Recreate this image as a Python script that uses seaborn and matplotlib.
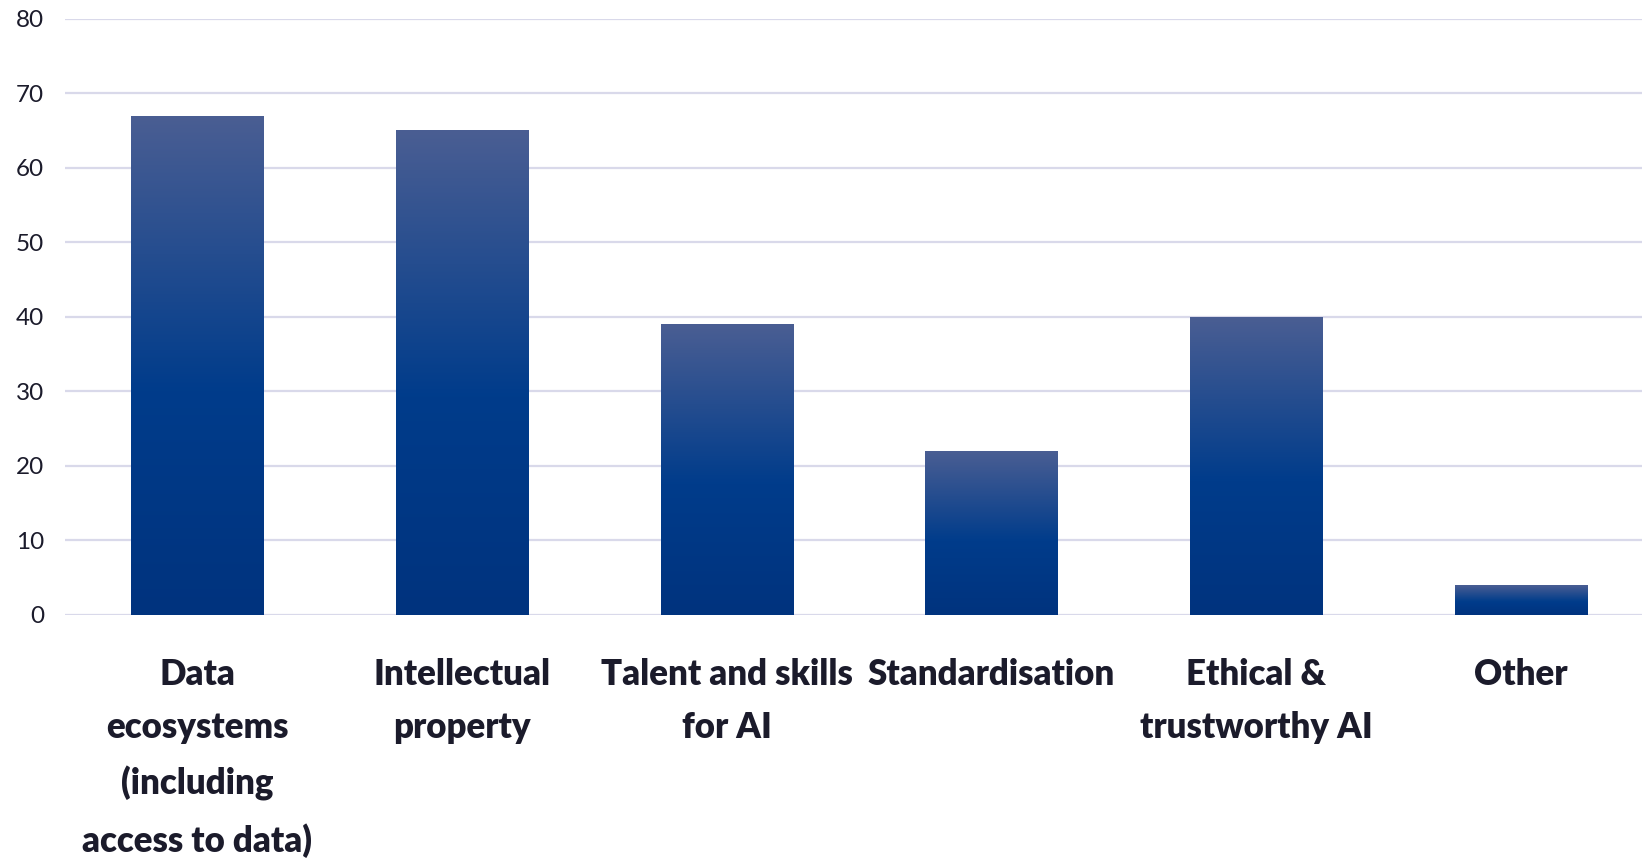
import numpy as np
import pandas as pd
import matplotlib
matplotlib.use("Agg")
import matplotlib.pyplot as plt
import seaborn as sns
from matplotlib.colors import LinearSegmentedColormap

categories = ["Data\necosystems\n(including\naccess to data)", "Intellectual\nproperty",
              "Talent and skills\nfor AI", "Standardisation", "Ethical &\ntrustworthy AI", "Other"]
values = [67, 65, 39, 22, 40, 4]
y_ticks = [0, 10, 20, 30, 40, 50, 60, 70, 80]

df = pd.DataFrame({"category": categories, "value": values})

sns.set_style("white")
plt.rcParams["font.family"] = ["Lato", "DejaVu Sans"]

text_color = "#1b1b2b"
grid_color = "#d9d9ea"
bar_cmap = LinearSegmentedColormap.from_list(
    "bar_grad", [(0.0, "#00337e"), (0.45, "#003c8b"), (1.0, "#4a5e93")])

fig = plt.figure(figsize=(16.42, 8.61), dpi=100)
ax = fig.add_axes([65 / 1642, 0.286, 1 - 65 / 1642, 0.692])

sns.barplot(data=df, x="category", y="value", color="#003c8b", width=0.5, ax=ax, zorder=3)

# swap flat fills for a vertical gradient per bar
grad = np.linspace(0, 1, 256).reshape(-1, 1)
for patch in ax.patches:
    x, y = patch.get_x(), patch.get_y()
    w, h = patch.get_width(), patch.get_height()
    ax.imshow(grad, extent=[x, x + w, y, y + h], origin="lower", aspect="auto",
              cmap=bar_cmap, zorder=3, interpolation="bicubic")
    patch.set_facecolor("none")
    patch.set_edgecolor("none")

ax.set_xlim(-0.5, 5.457)
ax.set_ylim(0, 80)
ax.set_yticks(y_ticks)
ax.yaxis.grid(True, color=grid_color, linewidth=1.6, zorder=0)
ax.set_axisbelow(True)
for s in ax.spines.values():
    s.set_visible(False)

ax.set_xlabel("")
ax.set_ylabel("")
ax.tick_params(axis="y", length=0, pad=15, labelsize=17.5, labelcolor=text_color)
ax.tick_params(axis="x", length=0, pad=31, labelcolor=text_color)
for lbl in ax.get_xticklabels():
    lbl.set_fontsize(25)
    lbl.set_fontweight("heavy")
    lbl.set_linespacing(1.76)
    lbl.set_verticalalignment("top")

fig.savefig("out.png", dpi=100)
